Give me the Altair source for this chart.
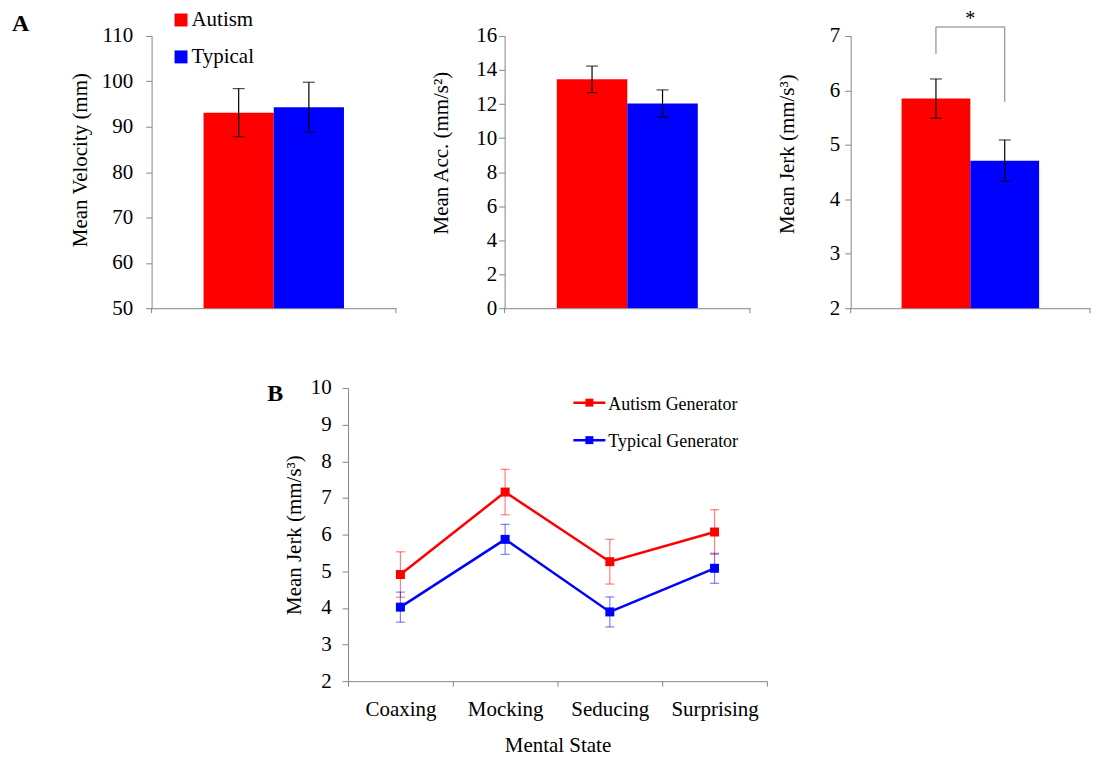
import altair as alt
import pandas as pd

# ---------------- data ----------------
groups = ["Autism", "Typical"]
group_colors = ["#FF0000", "#0000FF"]

velocity_mean = [93.1, 94.3]
velocity_err = [5.3, 5.5]
acc_mean = [13.45, 12.03]
acc_err = [0.78, 0.80]
jerk_mean = [5.85, 4.71]
jerk_err = [0.36, 0.38]

velocity_ticks = [50, 60, 70, 80, 90, 100, 110]
acc_ticks = [0, 2, 4, 6, 8, 10, 12, 14, 16]
jerk_ticks = [2, 3, 4, 5, 6, 7]

sig_x = ["Autism", "Autism", "Typical", "Typical"]
sig_y = [6.67, 7.165, 7.165, 5.79]
sig_order = [0, 1, 2, 3]

states = ["Coaxing", "Mocking", "Seducing", "Surprising"]
series = ["Autism Generator", "Typical Generator"]
series_colors = ["#FF0000", "#0000FF"]
autism_gen_mean = [4.91, 7.16, 5.26, 6.07]
autism_gen_err = [0.62, 0.62, 0.61, 0.61]
typical_gen_mean = [4.02, 5.87, 3.89, 5.08]
typical_gen_err = [0.41, 0.41, 0.41, 0.41]
line_ticks = [2, 3, 4, 5, 6, 7, 8, 9, 10]

FONT = "Liberation Serif"
GRAY = "#868686"
BAR_H = 273


def one(**kw):
    return pd.DataFrame({k: [v] for k, v in kw.items()})


def bar_panel(mean, err, domain, ticks, title, width, label_pad, title_x, title_y):
    df = pd.DataFrame({
        "group": groups,
        "mean": mean,
        "lo": [m - e for m, e in zip(mean, err)],
        "hi": [m + e for m, e in zip(mean, err)],
    })
    xenc = alt.X("group:N", sort=groups,
                 scale=alt.Scale(type="band", paddingInner=0, paddingOuter=0.74),
                 axis=alt.Axis(labels=False, ticks=False, title=None,
                               domainColor=GRAY))
    yscale = alt.Scale(domain=domain, nice=False, zero=False)
    yaxis = alt.Axis(values=ticks, title=title, labelPadding=label_pad,
                     titleX=title_x, titleY=title_y, titleBaseline="middle")
    base = alt.Chart(df)
    bars = base.mark_bar(clip=True).encode(
        x=xenc,
        y=alt.Y("mean:Q", scale=yscale, axis=yaxis),
        color=alt.Color("group:N", scale=alt.Scale(domain=groups, range=group_colors),
                        legend=None),
    )
    rules = base.mark_rule(color="black", strokeWidth=1.2).encode(
        x=xenc, y=alt.Y("lo:Q", scale=yscale, axis=yaxis), y2="hi:Q")
    cap_lo = base.mark_tick(color="black", size=12, thickness=1.2).encode(
        x=xenc, y=alt.Y("lo:Q", scale=yscale, axis=yaxis))
    cap_hi = base.mark_tick(color="black", size=12, thickness=1.2).encode(
        x=xenc, y=alt.Y("hi:Q", scale=yscale, axis=yaxis))
    endticks = [
        alt.Chart(one(a=0)).mark_rule(color=GRAY, strokeWidth=1).encode(
            x=alt.value(xv), y=alt.value(BAR_H), y2=alt.value(BAR_H + 5))
        for xv in (0, width)
    ]
    layers = [bars, rules, cap_lo, cap_hi] + endticks
    return layers, xenc, yscale, yaxis


# ---- panel A1: velocity ----
W1 = 245
l1, x1, ys1, ya1 = bar_panel(velocity_mean, velocity_err, [50, 110], velocity_ticks,
                             "Mean Velocity (mm)", W1, 13, -71, 124)
label_a = alt.Chart(one(t="A")).mark_text(
    font=FONT, fontSize=24, fontWeight="bold", align="left", baseline="alphabetic",
    color="black").encode(text="t:N", x=alt.value(-140), y=alt.value(-5))
legA = []
for i, (g, c) in enumerate(zip(groups, group_colors)):
    yy = -16 + 37 * i
    legA.append(alt.Chart(one(g=g)).mark_square(size=169, opacity=1, color=c).encode(
        x=alt.value(29.5), y=alt.value(yy)))
    legA.append(alt.Chart(one(g=g)).mark_text(
        font=FONT, fontSize=21, align="left", baseline="alphabetic", color="black").encode(
        text="g:N", x=alt.value(40), y=alt.value(yy + 6)))
p1 = alt.layer(*l1, label_a, *legA).properties(width=W1, height=BAR_H)

# ---- panel A2: acceleration ----
W2 = 246
l2, x2, ys2, ya2 = bar_panel(acc_mean, acc_err, [0, 16], acc_ticks,
                             "Mean Acc. (mm/s²)", W2, 2, -63, 117)
p2 = alt.layer(*l2).properties(width=W2, height=BAR_H)

# ---- panel A3: jerk ----
W3 = 240
l3, x3, ys3, ya3 = bar_panel(jerk_mean, jerk_err, [2, 7], jerk_ticks,
                             "Mean Jerk (mm/s³)", W3, 5, -63, 118)
sig_df = pd.DataFrame({"group": sig_x, "y": sig_y, "o": sig_order})
bracket = alt.Chart(sig_df).mark_line(color="#7a7a7a", strokeWidth=1).encode(
    x=x3, y=alt.Y("y:Q", scale=ys3, axis=ya3), order="o:Q")
star = alt.Chart(one(t="*")).mark_text(
    font=FONT, fontSize=20, align="center", baseline="alphabetic", color="black").encode(
    text="t:N", x=alt.value(W3 / 2), y=alt.value(-11))
p3 = alt.layer(*l3, bracket, star).properties(width=W3, height=BAR_H)

top = alt.hconcat(p1, alt.hconcat(p2, p3, spacing=101, bounds="flush"),
                  spacing=109, bounds="flush")

# ---- panel B ----
rowsB = []
for s, m_list, e_list in ((series[0], autism_gen_mean, autism_gen_err),
                          (series[1], typical_gen_mean, typical_gen_err)):
    for st, m, e in zip(states, m_list, e_list):
        rowsB.append({"series": s, "state": st, "mean": m, "lo": m - e, "hi": m + e})
dfB = pd.DataFrame(rowsB)

WB, HB = 420, 294
xB = alt.X("state:N", sort=states,
           scale=alt.Scale(type="band", paddingInner=0, paddingOuter=0),
           axis=alt.Axis(title="Mental State", tickBand="extent", labelAngle=0,
                         tickSize=5, labelPadding=12, titlePadding=16))
ysB = alt.Scale(domain=[2, 10], nice=False, zero=False)
yaB = alt.Axis(values=line_ticks, title="Mean Jerk (mm/s³)", labelPadding=11,
               titleX=-54, titleBaseline="middle")
colB = alt.Color("series:N", scale=alt.Scale(domain=series, range=series_colors),
                 legend=None)
baseB = alt.Chart(dfB)
errB = baseB.mark_rule(strokeWidth=1.2, opacity=0.5).encode(
    x=xB, y=alt.Y("lo:Q", scale=ysB, axis=yaB), y2="hi:Q", color=colB)
capLoB = baseB.mark_tick(size=9, thickness=1.2, opacity=0.5).encode(
    x=xB, y=alt.Y("lo:Q", scale=ysB, axis=yaB), color=colB)
capHiB = baseB.mark_tick(size=9, thickness=1.2, opacity=0.5).encode(
    x=xB, y=alt.Y("hi:Q", scale=ysB, axis=yaB), color=colB)
lineB = baseB.mark_line(strokeWidth=2.5).encode(
    x=xB, y=alt.Y("mean:Q", scale=ysB, axis=yaB), color=colB, detail="series:N")
ptsB = baseB.mark_square(size=81, opacity=1).encode(
    x=xB, y=alt.Y("mean:Q", scale=ysB, axis=yaB), color=colB)

legB = []
for i, (s, c) in enumerate(zip(series, series_colors)):
    yy = 14.7 + 37.6 * i
    legB.append(alt.Chart(one(s=s)).mark_rule(color=c, strokeWidth=2.5).encode(
        x=alt.value(226), x2=alt.value(258), y=alt.value(yy)))
    legB.append(alt.Chart(one(s=s)).mark_square(color=c, size=64, opacity=1).encode(
        x=alt.value(242), y=alt.value(yy)))
    legB.append(alt.Chart(one(s=s)).mark_text(
        font=FONT, fontSize=18, align="left", baseline="alphabetic", color="black").encode(
        text="s:N", x=alt.value(261), y=alt.value(yy + 7)))

label_b = alt.Chart(one(t="B")).mark_text(
    font=FONT, fontSize=24, fontWeight="bold", align="left", baseline="alphabetic",
    color="black").encode(text="t:N", x=alt.value(-81), y=alt.value(13))

pB = alt.layer(errB, capLoB, capHiB, lineB, ptsB, *legB, label_b).properties(
    width=WB, height=HB)

spacer = alt.Chart(one(a=0)).mark_point(opacity=0, size=1).encode(
    x=alt.value(0), y=alt.value(0)).properties(width=187, height=1)
bottom = alt.hconcat(spacer, pB, spacing=10, bounds="flush")

chart = alt.vconcat(top, bottom, spacing=59).resolve_scale(color="independent").properties(
    padding={"left": 4, "top": 0, "right": 0, "bottom": 0}
).configure(font=FONT).configure_view(stroke=None).configure_axis(
    labelFont=FONT, titleFont=FONT, labelFontSize=21, titleFontSize=21,
    titleFontWeight="normal", labelColor="black", titleColor="black",
    domainColor=GRAY, tickColor=GRAY, grid=False, tickSize=6, domainWidth=1,
    tickWidth=1,
)

chart.save("out.html", embed_options={"renderer": "svg", "actions": False})
